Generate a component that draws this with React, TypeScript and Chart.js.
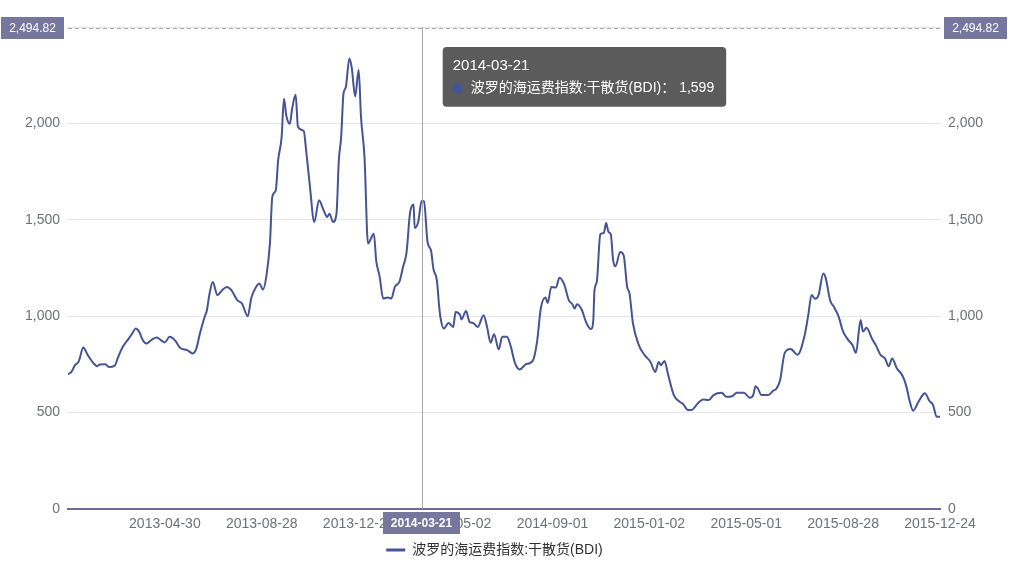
import React, { useEffect, useRef } from 'react';
import { Chart, registerables, Tooltip } from 'chart.js';

Chart.register(...registerables);

const SERIES_NAME = '波罗的海运费指数:干散货(BDI)';

// trading-day index (0 = first day shown) and BDI value
const dayIndex = [
  0, 3, 6, 9, 10, 13, 17, 22, 25, 27, 32, 35, 40, 43, 47, 52, 55, 58, 61, 64,
  67, 72, 76, 79, 83, 87, 92, 96, 102, 107, 110, 113, 117, 119, 121, 124, 128, 132, 136, 140,
  145, 149, 154, 157, 161, 164, 167, 170, 173, 175, 178, 180, 183, 185, 187, 190, 192, 195, 197, 202,
  204, 207, 211, 215, 219, 222, 224, 227, 230, 232, 234, 236, 238, 241, 243, 246, 249, 251, 254, 257,
  262, 264, 267, 270, 274, 277, 280, 284, 287, 290, 293, 296, 297, 300, 303, 305, 308, 311, 313, 316,
  318, 319, 322, 326, 330, 332, 336, 337, 341, 344, 347, 351, 356, 359, 362, 365, 369, 372, 376, 379,
  383, 387, 392, 396, 399, 402, 405, 409, 411, 414, 418, 421, 425, 429, 432, 434, 436, 440, 444, 448,
  450, 451, 453, 456, 459, 461, 463, 465, 467, 469, 473, 476, 479, 481, 484, 489, 494, 499, 503, 506,
  508, 511, 514, 519, 524, 527, 531, 534, 540, 544, 549, 553, 560, 564, 569, 573, 579, 584, 587, 589,
  591, 594, 600, 604, 607, 610, 614, 619, 625, 631, 634, 637, 640, 643, 647, 649, 653, 656, 660, 664,
  668, 672, 675, 679, 681, 684, 689, 692, 696, 700, 703, 706, 710, 715, 718, 721, 724, 728, 732, 734,
  738, 741, 744, 747,
];

const bdiValues = [
  699, 711, 746, 763, 780, 838, 798, 755, 741, 749, 751, 737, 744, 789, 841, 884, 910, 936, 919, 876,
  858, 879, 890, 879, 864, 893, 872, 836, 824, 807, 833, 910, 996, 1031, 1109, 1178, 1109, 1135, 1152, 1135,
  1083, 1066, 1000, 1095, 1150, 1169, 1138, 1210, 1380, 1618, 1653, 1808, 1929, 2128, 2041, 1998, 2076, 2148, 1981, 1960,
  1860, 1688, 1489, 1601, 1549, 1514, 1532, 1489, 1532, 1808, 1929, 2154, 2188, 2337, 2292, 2140, 2278, 2033, 1825, 1377,
  1428, 1290, 1204, 1092, 1097, 1092, 1152, 1180, 1255, 1330, 1536, 1580, 1458, 1489, 1599, 1595, 1385, 1340, 1247, 1186,
  1048, 996, 936, 965, 944, 1022, 1005, 983, 1027, 970, 965, 944, 1005, 944, 862, 907, 827, 893, 893, 850,
  755, 724, 750, 758, 781, 876, 1040, 1097, 1069, 1152, 1149, 1200, 1166, 1083, 1062, 1040, 1062, 1035, 966, 933,
  980, 1135, 1178, 1424, 1432, 1483, 1437, 1425, 1290, 1259, 1333, 1316, 1152, 1118, 962, 850, 798, 763, 711, 763,
  746, 768, 699, 591, 556, 544, 513, 513, 551, 568, 565, 591, 603, 582, 585, 603, 603, 577, 591, 637,
  625, 591, 591, 613, 625, 668, 810, 830, 800, 900, 1000, 1110, 1090, 1110, 1222, 1200, 1080, 1050, 1000, 920,
  880, 850, 810, 980, 920, 940, 880, 850, 800, 780, 740, 780, 730, 690, 640, 560, 510, 550, 590, 600,
  560, 540, 480, 478,
];

const xTickLabels = [
  '', '2013-04-30', '2013-08-28', '2013-12-23', '2014-05-02',
  '2014-09-01', '2015-01-02', '2015-05-01', '2015-08-28', '2015-12-24',
];
const X_TICK_STEP = 83;
const X_MAX = 747;
const Y_MAX = 2500;
const Y_STEP = 500;

const hoverDay = 303;
const hoverDate = '2014-03-21';
const pointerValue = 2494.82;

const LINE_COLOR = '#465494';
const AXIS_COLOR = '#6e6c96';
const LABEL_BG = '#77769d';
const TICK_COLOR = '#6e7079';
const GRID_COLOR = '#e6e6f0';
const FONT = "'Liberation Sans', 'Noto Sans CJK SC', sans-serif";

const fmt = (v: number) => v.toLocaleString('en-US', { maximumFractionDigits: 2, minimumFractionDigits: 0 });

(Tooltip.positioners as any).pointerOffset = function () {
  const chart = (this as any).chart;
  const x = chart.scales.x.getPixelForValue(hoverDay);
  const y = chart.scales.y.getPixelForValue(pointerValue);
  return { x: x + 25, y: y + 19 };
};

function drawTag(
  ctx: CanvasRenderingContext2D,
  text: string,
  x: number,
  y: number,
  anchor: 'left' | 'right' | 'center',
  weight: string,
) {
  ctx.save();
  ctx.font = `${weight} 12px ${FONT}`;
  const w = Math.round(ctx.measureText(text).width + 16);
  const h = 22;
  let left = x;
  if (anchor === 'right') left = x - w;
  if (anchor === 'center') left = x - w / 2;
  left = Math.round(left);
  const top = Math.round(y - h / 2);
  ctx.fillStyle = LABEL_BG;
  ctx.fillRect(left, top, w, h);
  ctx.fillStyle = '#ffffff';
  ctx.textAlign = 'center';
  ctx.textBaseline = 'middle';
  ctx.fillText(text, left + w / 2, top + h / 2 + 0.5);
  ctx.restore();
}

const crossPointer = {
  id: 'crossPointer',
  afterDatasetsDraw(chart: any) {
    const { ctx, chartArea, scales } = chart;
    const x = Math.round(scales.x.getPixelForValue(hoverDay)) + 0.5;
    const y = Math.round(scales.y.getPixelForValue(pointerValue)) + 0.5;
    ctx.save();
    ctx.lineWidth = 1;
    ctx.strokeStyle = '#a8a8a8';
    ctx.beginPath();
    ctx.moveTo(x, chartArea.top);
    ctx.lineTo(x, chartArea.bottom);
    ctx.stroke();
    ctx.setLineDash([4, 3]);
    ctx.beginPath();
    ctx.moveTo(chartArea.left, y);
    ctx.lineTo(chartArea.right, y);
    ctx.stroke();
    ctx.restore();
  },
  afterDraw(chart: any) {
    const { ctx, chartArea, scales } = chart;
    const x = scales.x.getPixelForValue(hoverDay);
    const y = scales.y.getPixelForValue(pointerValue);
    drawTag(ctx, fmt(pointerValue), chartArea.left - 4, y, 'right', 'normal');
    drawTag(ctx, fmt(pointerValue), chartArea.right + 4, y, 'left', 'normal');
    drawTag(ctx, hoverDate, x, chartArea.bottom + 3 + 11, 'center', 'bold');
  },
};

export default function App() {
  const ref = useRef<HTMLCanvasElement>(null);
  useEffect(() => {
    if (!ref.current) return;
    Chart.defaults.font.family = FONT;
    const chart = new Chart(ref.current, {
      type: 'line',
      data: {
        datasets: [
          {
            label: SERIES_NAME,
            data: dayIndex.map((d, i) => ({ x: d, y: bdiValues[i] })),
            borderColor: LINE_COLOR,
            backgroundColor: LINE_COLOR,
            borderWidth: 2,
            pointRadius: 0,
            pointHoverRadius: 0,
            cubicInterpolationMode: 'monotone',
            yAxisID: 'y',
          },
        ],
      },
      options: {
        responsive: false,
        animation: false,
        events: [],
        layout: { padding: { top: 27, right: 24, bottom: -3, left: 0 } },
        scales: {
          x: {
            type: 'linear',
            position: 'bottom',
            min: 0,
            max: X_MAX,
            grid: { display: false, drawTicks: false },
            border: { display: true, color: AXIS_COLOR, width: 2 },
            ticks: {
              stepSize: X_TICK_STEP,
              autoSkip: false,
              maxRotation: 0,
              minRotation: 0,
              padding: 7,
              color: TICK_COLOR,
              font: { size: 14 },
              callback: (v: any) => xTickLabels[Math.round(Number(v) / X_TICK_STEP)] ?? '',
            },
            afterFit: (s: any) => { s.height = 24; },
          },
          y: {
            type: 'linear',
            position: 'left',
            min: 0,
            max: Y_MAX,
            grid: { color: GRID_COLOR, drawTicks: false },
            border: { display: false },
            ticks: {
              stepSize: Y_STEP,
              padding: 8,
              color: TICK_COLOR,
              font: { size: 14 },
              callback: (v: any) => (Number(v) >= Y_MAX ? '' : fmt(Number(v))),
            },
            afterFit: (s: any) => { s.width = 68; },
          },
          y2: {
            type: 'linear',
            position: 'right',
            min: 0,
            max: Y_MAX,
            grid: { display: false, drawTicks: false },
            border: { display: false },
            ticks: {
              stepSize: Y_STEP,
              padding: 8,
              color: TICK_COLOR,
              font: { size: 14 },
              callback: (v: any) => (Number(v) >= Y_MAX ? '' : fmt(Number(v))),
            },
            afterFit: (s: any) => { s.width = 49; },
          },
        },
        plugins: {
          legend: {
            display: true,
            position: 'bottom',
            labels: {
              usePointStyle: true,
              pointStyle: 'line',
              pointStyleWidth: 19,
              padding: 10,
              color: '#333333',
              font: { size: 14 },
              generateLabels: (c: any) =>
                Chart.defaults.plugins.legend.labels.generateLabels(c).map((l: any) => ({
                  ...l,
                  pointStyle: 'line',
                  lineWidth: 3,
                  strokeStyle: LINE_COLOR,
                })),
            },
          },
          tooltip: {
            enabled: true,
            position: 'pointerOffset' as any,
            xAlign: 'left',
            yAlign: 'top',
            caretSize: 0,
            caretPadding: 0,
            backgroundColor: 'rgba(50,50,50,0.8)',
            cornerRadius: 4,
            padding: { top: 10, bottom: 10, left: 10, right: 12 },
            titleFont: { size: 15, weight: 'normal', family: FONT },
            bodyFont: { size: 14, family: FONT },
            titleColor: '#ffffff',
            bodyColor: '#ffffff',
            titleMarginBottom: 5,
            displayColors: true,
            usePointStyle: true,
            boxWidth: 10,
            boxHeight: 10,
            boxPadding: 6,
            multiKeyBackground: 'rgba(0,0,0,0)',
            borderWidth: 0,
            callbacks: {
              title: () => hoverDate,
              label: (item: any) => `${SERIES_NAME}： ${fmt(item.parsed.y)}`,
              labelPointStyle: () => ({ pointStyle: 'circle', rotation: 0 }),
              labelColor: () => ({ borderColor: LINE_COLOR, backgroundColor: LINE_COLOR }),
            },
          },
        },
      },
      plugins: [crossPointer],
    } as any);
    const hoverIdx = dayIndex.indexOf(hoverDay);
    chart.setActiveElements([{ datasetIndex: 0, index: hoverIdx }]);
    chart.tooltip?.setActiveElements([{ datasetIndex: 0, index: hoverIdx }], { x: 0, y: 0 });
    chart.update();
    return () => chart.destroy();
  }, []);
  return (
    <div style={{ position: 'fixed', left: 0, top: 0, width: 1013, height: 564, background: '#ffffff' }}>
      <canvas ref={ref} width={1013} height={564} style={{ display: 'block' }} />
    </div>
  );
}
